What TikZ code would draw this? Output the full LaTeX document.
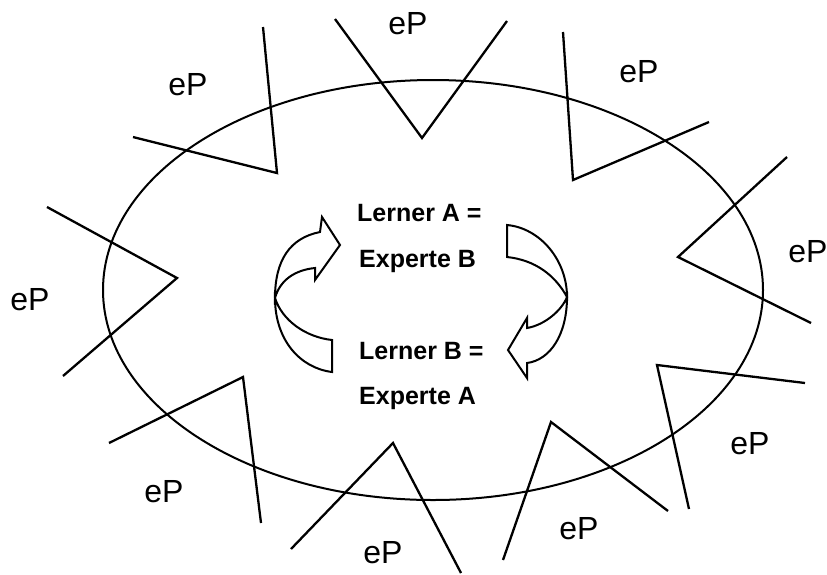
\documentclass[tikz,border=0pt]{standalone}
\usepackage{fontspec}
\setmainfont{Liberation Sans}
\begin{document}
\begin{tikzpicture}[x=1pt,y=-1pt, line join=miter,
  ep/.style={font=\fontsize{32}{36}\selectfont, inner sep=0pt},
  lab/.style={font=\bfseries\fontsize{25}{28}\selectfont, anchor=base west, inner sep=0pt},
  wedge/.style={line width=2.3pt},
  ring/.style={line width=2pt},
  swirl/.style={line width=2pt, fill=white}]
\useasboundingbox (0,0) rectangle (827,574);
% ellipse
\draw[ring] (433,290) ellipse [x radius=330, y radius=210];
% wedges
\draw[wedge] (133,137) -- (277,173) -- (263,27);
\draw[wedge] (335,19) -- (422,138) -- (507,21);
\draw[wedge] (563,32) -- (573,180) -- (709,122);
\draw[wedge] (787,157) -- (678,257) -- (811,323);
\draw[wedge] (805,383) -- (657,365) -- (689,509);
\draw[wedge] (503,560) -- (551,422) -- (668,511);
\draw[wedge] (291,549) -- (393,443) -- (461,573);
\draw[wedge] (109,443) -- (243,377) -- (261,523);
\draw[wedge] (47,207) -- (177,278) -- (63,376);
% labels
\node[ep] (e1) at (188,85) {eP};
\node[ep] (e2) at (408,24) {eP};
\node[ep] (e3) at (639,72) {eP};
\node[ep] (e4) at (808,252) {eP};
\node[ep] (e5) at (750,444) {eP};
\node[ep] (e6) at (579,529) {eP};
\node[ep] (e7) at (383,553) {eP};
\node[ep] (e8) at (164,492) {eP};
\node[ep] (e9) at (30,300) {eP};
% center texts
\node[lab] (la) at (357,221) {Lerner A =};
\node[lab] (eb) at (359,267) {Experte B};
\node[lab] (lb) at (359,359) {Lerner B =};
\node[lab] (ea) at (359,404) {Experte A};
% left swirl arrow
\coordinate (p) at (275,298);
\draw[swirl] (p) .. controls (275,260) and (290,238) .. (320,232) -- (322,217) -- (340,245) -- (315,280) -- (315,268) .. controls (295,270) and (280,280) .. (p) -- cycle;
\draw[swirl] (p) .. controls (275,340) and (300,368) .. (332,372) -- (332,340) .. controls (305,337) and (282,320) .. (p) -- cycle;
% right swirl arrow
\coordinate (q) at (567,297);
\draw[swirl] (507,225) .. controls (540,228) and (567,260) .. (q) .. controls (555,275) and (535,260) .. (507,257) -- cycle;
\draw[swirl] (q) .. controls (567,335) and (550,360) .. (527,363) -- (527,378) -- (508,350) -- (527,318) -- (527,328) .. controls (545,325) and (562,310) .. (q) -- cycle;
\end{tikzpicture}
\end{document}
